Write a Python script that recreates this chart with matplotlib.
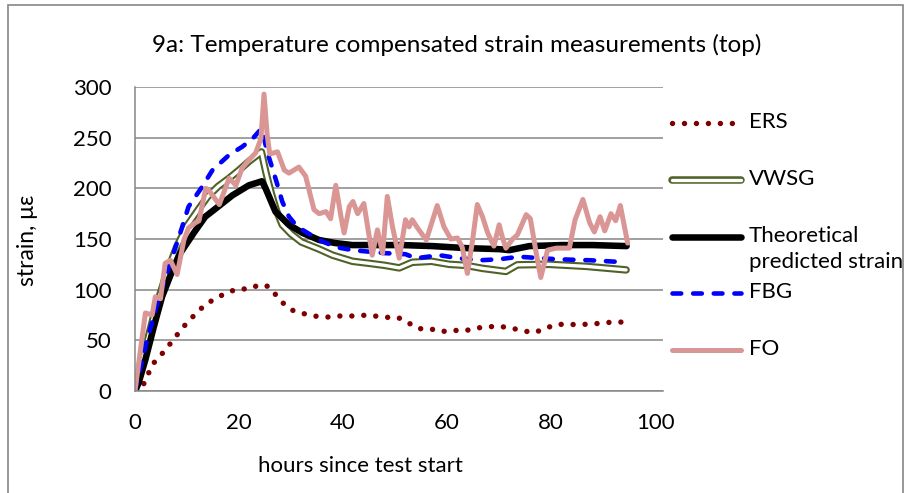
import matplotlib
matplotlib.use("Agg")
import matplotlib.pyplot as plt
from matplotlib.lines import Line2D
from matplotlib.patches import Rectangle

plt.rcParams["font.family"] = ["Lato", "DejaVu Sans"]
plt.rcParams["font.size"] = 16

# ERS (electrical resistance strain gauge)
t_ers = [0, 1.4, 2.4, 3.3, 4.75, 6.2, 7.6, 8.9, 10.5, 12, 13.7, 15.6, 17.6, 19.75, 21.9, 24,
         25.8, 27.2, 28.7, 30.5, 32.7, 34.9, 37.1, 39.3, 41.6, 43.9, 46.1, 48.3, 50.5, 52.5,
         54.5, 56.7, 58.8, 61, 63.3, 65.4, 67.6, 69.9, 72.1, 74.3, 76.4, 78.5, 80.6, 82.75,
         85, 87.25, 89.5, 91.7, 93.9]
y_ers = [0, 4, 15, 26, 34, 43, 52, 61, 70, 78, 86, 91.5, 97, 100.7, 100.7, 105,
         103, 94, 85.5, 79, 76, 73.7, 73, 74, 74, 74.7, 74, 72.7, 72.7, 67.4,
         61.5, 61.5, 58.5, 60, 59.2, 62, 63.2, 64, 62.2, 60, 57.5, 60.5, 65.4, 66,
         65.4, 66, 66.8, 68, 68]

# VWSG (vibrating wire strain gauge)
t_vw = [0, 2, 4, 6, 8, 10, 12.3, 14, 16, 18.1, 20, 22, 24.3, 25.2, 26.2, 27.2, 28.3, 30,
        32, 35.4, 38, 41.8, 45, 48, 50.8, 53.3, 57, 60.4, 63.6, 66.8, 71.3, 73.5, 79.6,
        86.7, 94.4]
y_vw = [0, 42, 82, 115, 142, 163, 180, 192, 202, 210, 218, 227, 236, 215, 195, 178, 164, 155,
        147, 140, 134, 128, 126, 124, 121.5, 127, 128, 125, 124, 121, 118, 124.5, 125,
        123, 119.5]

# theoretical predicted strain
t_theo = [0, 0.7, 2, 3.6, 5.2, 6.8, 8.7, 11.3, 13.5, 15.5, 18.7, 21.9, 24.4, 25.1, 27, 29.6,
          32.2, 35.4, 38.5, 41.8, 46, 51.4, 57.2, 63.6, 70, 72, 75.8, 82, 88, 94.5]
y_theo = [0, 8, 31, 63, 93, 114, 136, 156, 172, 180, 193, 203, 207, 200, 177, 164,
          156, 149, 146, 144, 144, 144, 143, 141, 140, 139, 143, 144, 144, 143]

# FBG (fibre Bragg grating)
t_fbg = [0, 1, 2.3, 4.5, 7.1, 8.7, 10.3, 12.7, 14.9, 18.1, 20.6, 22.6, 23.8, 24.4, 25.4,
         26.4, 27.4, 28.3, 29.6, 30.9, 32.2, 35.4, 38.6, 41.8, 45, 48.2, 52, 54, 58.5,
         62.3, 66.2, 70, 73.8, 81.2, 87.6, 94.4]
y_fbg = [0, 22, 50, 90, 131, 156, 182, 200, 218, 233, 241, 249, 256, 259, 236,
         220, 203, 187, 172, 164, 159, 149, 142, 139, 137.5, 136, 135, 131, 134,
         131, 129, 130, 132.5, 130, 129, 127]

# FO (distributed fibre optic)
t_fo = [0, 2, 3.3, 3.9, 4.9, 5.8, 6.8, 8.1, 9.4, 10.3, 11.6, 12.3, 13.6, 14.2, 16.2, 18.1,
        19.4, 20.6, 21.9, 23.2, 24.2, 24.8, 25.4, 25.9, 27.4, 28.7, 29.6, 31.5, 32.8, 34.4,
        35.4, 36.7, 37.6, 38.6, 39.6, 40.2, 41.2, 41.9, 42.8, 44, 45.6, 46.6, 47.6, 48.5,
        49.5, 50.8, 52, 52.7, 53.3, 54.3, 56, 58.1, 59.4, 60.7, 62, 62.9, 63.9, 64.9, 65.8,
        66.8, 67.8, 69, 70, 70.6, 71.3, 72.6, 73.5, 75.2, 76, 77.2, 78, 79.3, 81, 83.5,
        84.6, 86.1, 87.4, 88.3, 89.4, 90.3, 91.5, 92.4, 93.3, 94.7]
y_fo = [0, 77, 75, 93, 91, 126, 129, 115, 149, 161, 166, 168, 200, 198, 184, 210,
        203, 220, 228, 235, 249, 293, 253, 234, 236, 218, 215, 221, 212, 179,
        175, 177, 170, 203, 172, 156, 182, 187, 175, 185, 134, 159, 136, 192,
        162, 131, 169, 162, 169, 161, 149, 183, 162, 150, 151, 142, 116, 149, 184,
        172, 156, 143, 164, 152, 141, 150, 154, 174, 170, 134, 112, 139, 141, 141,
        169, 189, 166, 157, 172, 158, 175, 168, 183, 146]

x_ticks = [0, 20, 40, 60, 80, 100]
y_ticks = [0, 50, 100, 150, 200, 250, 300]

grey = "#868686"
c_ers = "#7F0000"
c_vw = "#4F6228"
c_fbg = "#0000FF"
c_fo = "#D99694"

fig = plt.figure(figsize=(9.06, 4.93), dpi=100)
fig.patches.append(Rectangle((8 / 906, -0.02), 895 / 906, 1.02 - 5 / 493,
                             transform=fig.transFigure, fill=False,
                             edgecolor=grey, linewidth=1.2))

ax = fig.add_axes([135 / 906, 1 - 391 / 493, 528 / 906, 304 / 493])

ers_style = dict(color=c_ers, linewidth=3.9, linestyle=(0, (0.01, 2.2)),
                 dash_capstyle="round")
vw_outer = dict(color=c_vw, linewidth=5.4, solid_joinstyle="round", solid_capstyle="round")
vw_inner = dict(color="white", linewidth=2.4, solid_joinstyle="round", solid_capstyle="round")
theo_style = dict(color="black", linewidth=4.7, solid_joinstyle="round", solid_capstyle="round")
fbg_style = dict(color=c_fbg, linewidth=3.3, linestyle=(0, (1.9, 2.6)),
                 dash_capstyle="round", dash_joinstyle="round")
fo_style = dict(color=c_fo, linewidth=3.6, solid_joinstyle="round", solid_capstyle="round")

ax.plot(t_ers, y_ers, **ers_style)
ax.plot(t_vw, y_vw, **vw_outer)
ax.plot(t_vw, y_vw, **vw_inner)
ax.plot(t_theo, y_theo, **theo_style)
ax.plot(t_fbg, y_fbg, **fbg_style)
ax.plot(t_fo, y_fo, **fo_style)

ax.set_xlim(0, 101.5)
ax.set_ylim(0, 300)
ax.set_xticks(x_ticks)
ax.set_yticks(y_ticks)
ax.tick_params(length=0, labelsize=16)
ax.tick_params(axis="x", pad=16)
ax.tick_params(axis="y", pad=17)
ax.grid(axis="y", color=grey, linewidth=1.1)
ax.set_axisbelow(True)
for side in ["top", "right"]:
    ax.spines[side].set_visible(False)
for side in ["left", "bottom"]:
    ax.spines[side].set_color(grey)
    ax.spines[side].set_linewidth(1.1)

fig.text(457 / 906, 1 - 45 / 493, "9a: Temperature compensated strain measurements (top)",
         ha="center", va="center", fontsize=17.5)
fig.text(27 / 906, 1 - 240 / 493, "strain, με", rotation=90, ha="center", va="center",
         fontsize=16.5)
fig.text(360 / 906, 1 - 466 / 493, "hours since test start", ha="center", va="center",
         fontsize=16)

# legend drawn by hand so the two-line entry lines up with its first line
x0, x1, xt = 672 / 906, 741 / 906, 749 / 906
entries = [
    (123, [ers_style], "ERS"),
    (180, [vw_outer, vw_inner], "VWSG"),
    (237, [theo_style], "Theoretical\npredicted strain"),
    (293, [fbg_style], "FBG"),
    (350, [fo_style], "FO"),
]
for ypx, styles, label in entries:
    yf = 1 - ypx / 493
    for st in styles:
        fig.add_artist(Line2D([x0, x1], [yf, yf], transform=fig.transFigure, **st))
    fig.text(xt, yf + 11 / 493, label, ha="left", va="top", fontsize=16, linespacing=1.35)

fig.savefig("out.png", dpi=100)
